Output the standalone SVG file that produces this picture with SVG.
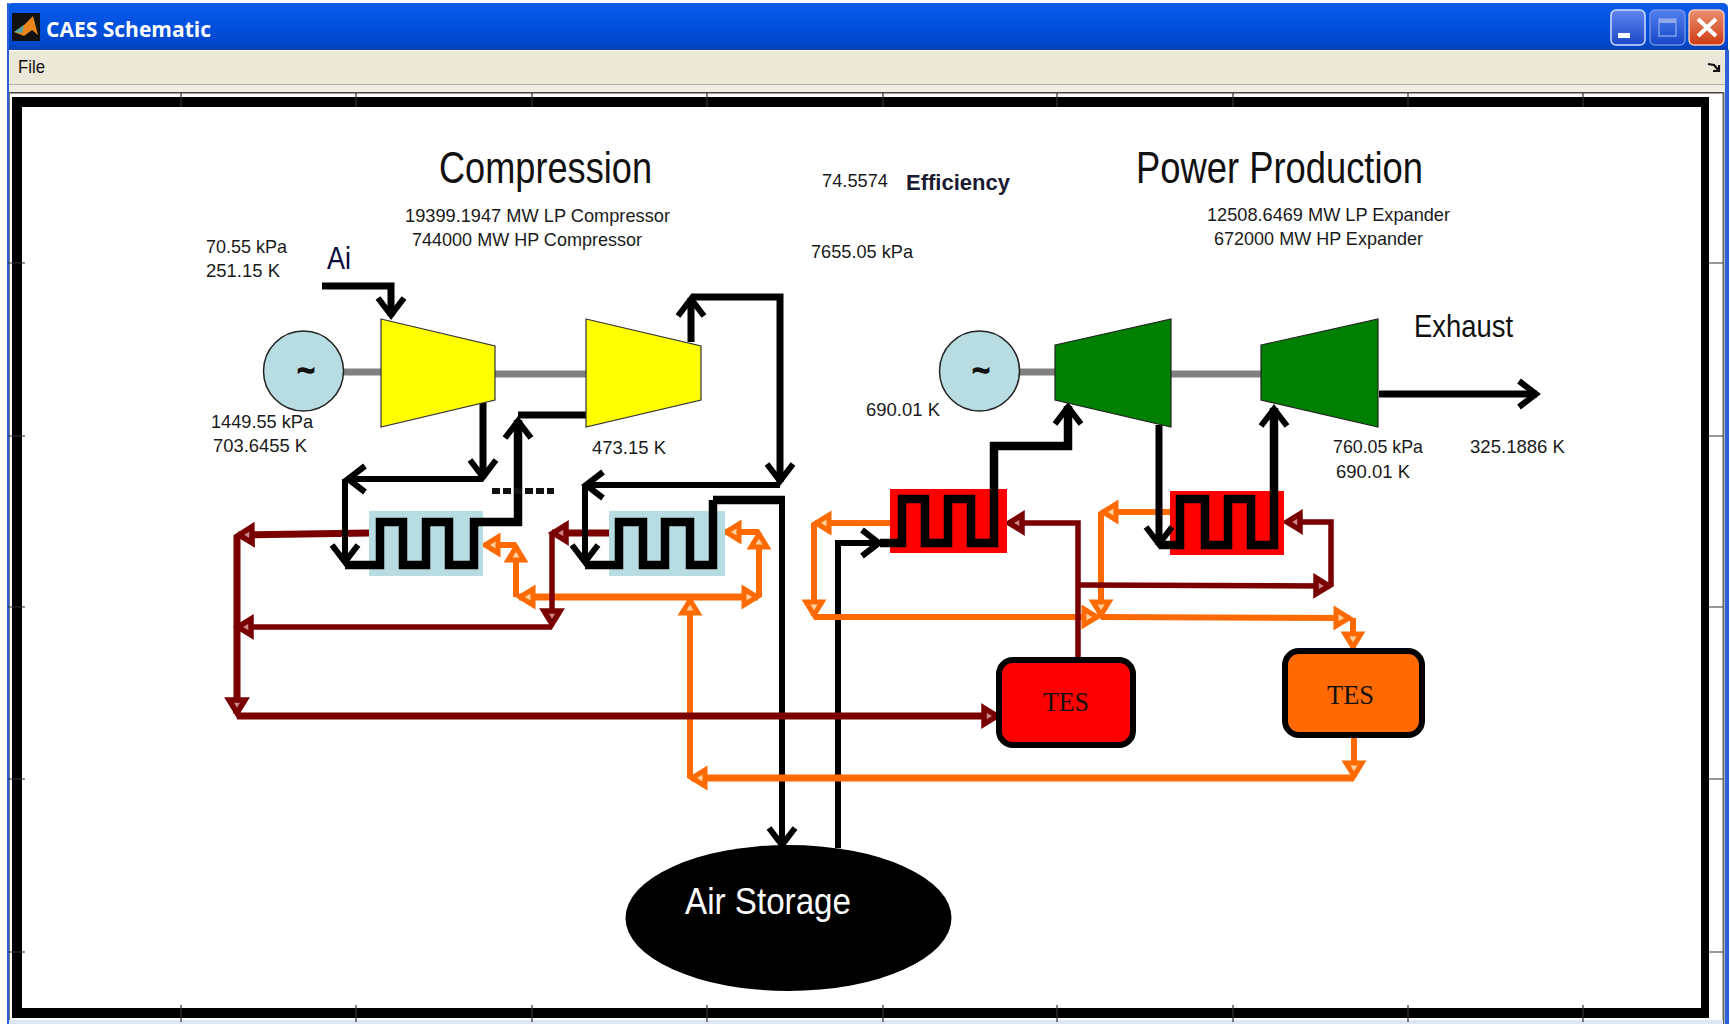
<svg xmlns="http://www.w3.org/2000/svg" width="1730" height="1024" viewBox="0 0 1730 1024">
<style>
.t{font-family:"Liberation Sans",Arial,sans-serif;fill:#1a1a1a;font-size:19px}
.h{font-family:"Liberation Sans",Arial,sans-serif;fill:#111;font-size:44px}
.serif{font-family:"Liberation Serif","Times New Roman",serif;fill:#111;font-size:27px}
.bk{fill:none;stroke:#000;stroke-width:7;stroke-linejoin:miter}
.bk1{fill:none;stroke:#000;stroke-width:6;stroke-linejoin:miter}
.bk2{fill:none;stroke:#000;stroke-width:8.5;stroke-linejoin:miter}
.mr{fill:none;stroke:#7a0000;stroke-width:5.5}
.mr2{fill:none;stroke:#7a0000;stroke-width:7}
.or{fill:none;stroke:#ff6a00;stroke-width:6}
.or2{fill:none;stroke:#ff6a00;stroke-width:7}
.sh{stroke:#808080;stroke-width:7}
.tick{stroke:#333;stroke-width:1.2}
</style>
<defs>
<linearGradient id="tb" x1="0" y1="0" x2="0" y2="1"><stop offset="0" stop-color="#0a5be0"/><stop offset=".12" stop-color="#0a58e8"/><stop offset=".5" stop-color="#0050dd"/><stop offset=".9" stop-color="#0046c8"/><stop offset="1" stop-color="#0a3fa8"/></linearGradient>
<linearGradient id="bb" x1="0" y1="0" x2="0" y2="1"><stop offset="0" stop-color="#5f86ef"/><stop offset="1" stop-color="#1c47c8"/></linearGradient>
<linearGradient id="cb" x1="0" y1="0" x2="0" y2="1"><stop offset="0" stop-color="#ea8f6f"/><stop offset="1" stop-color="#cf3a12"/></linearGradient>
<marker id="ab" markerUnits="userSpaceOnUse" markerWidth="36" markerHeight="36" refX="24" refY="18" orient="auto"><path d="M6 5L23 18L6 31" fill="none" stroke="#000" stroke-width="6"/></marker>
<marker id="am" markerUnits="userSpaceOnUse" markerWidth="26" markerHeight="26" refX="20" refY="13" orient="auto"><path d="M6 5L19 13L6 21Z" fill="#c88" stroke="#7a0000" stroke-width="5.5"/></marker>
<marker id="ao" markerUnits="userSpaceOnUse" markerWidth="26" markerHeight="26" refX="20" refY="13" orient="auto"><path d="M6 5L19 13L6 21Z" fill="#ffd0a0" stroke="#ff6a00" stroke-width="5"/></marker>
</defs>
<rect width="1730" height="1024" fill="#fff"/>
<g id="window">
<path d="M7 50V8Q7 3 13 3H1722Q1728 3 1728 8V50Z" fill="url(#tb)"/>
<rect x="7" y="51" width="1721" height="33" fill="#ebe8d8"/>
<rect x="7" y="84" width="1721" height="1" fill="#b5b2a2"/>
<rect x="7" y="85" width="1721" height="7" fill="#f0eee2"/>
<rect x="7" y="3" width="2" height="1021" fill="#2a62d8"/>
<rect x="1725" y="50" width="4" height="974" fill="#2a62d8"/>
<rect x="9" y="92" width="1714" height="1.5" fill="#444"/>
<rect x="9" y="92" width="1" height="932" fill="#777"/>
<rect x="1722.5" y="92" width="2" height="932" fill="#666"/>
<rect x="9" y="1020" width="1714" height="4" fill="#dde6f5"/>
<g id="icon"><rect x="12" y="13" width="28" height="28" fill="#111"/><path d="M14 32L24 25L33 16L38 35L32 30L24 36Z" fill="#e8861a"/><path d="M14 32L24 25L22 33Z" fill="#4fa8a8"/></g>
<text x="46" y="37" font-family="'Open Sans',sans-serif" font-weight="700" font-size="21" fill="#fff" textLength="165" lengthAdjust="spacingAndGlyphs">CAES Schematic</text>
<text x="18" y="73" font-family="'Liberation Sans',sans-serif" font-size="18" fill="#111" textLength="27" lengthAdjust="spacingAndGlyphs">File</text>
<g id="buttons">
<rect x="1611" y="10" width="34" height="35" rx="5" fill="url(#bb)" stroke="#cfe0ff" stroke-width="1.5"/><rect x="1618" y="33" width="12" height="5" fill="#fff"/>
<rect x="1650" y="10" width="35" height="35" rx="5" fill="url(#bb)" stroke="#7f9fe8" stroke-width="1.5" opacity=".85"/><rect x="1659" y="19" width="17" height="17" fill="none" stroke="#7f9fe8" stroke-width="1.5"/><rect x="1659" y="19" width="17" height="4" fill="#8fa9e8"/>
<rect x="1689" y="10" width="35" height="35" rx="5" fill="url(#cb)" stroke="#f0c8b8" stroke-width="1.5"/><path d="M1698 19L1716 36M1716 19L1698 36" stroke="#fff" stroke-width="4"/>
</g>
<path d="M1708 64L1714 65L1719 71M1713 71H1719V65" fill="none" stroke="#111" stroke-width="2.2"/>
</g>
<g id="frame">
<rect x="17" y="102" width="1688" height="911" fill="#fff"/>
<path fill-rule="evenodd" d="M12 97H1709V1018H12ZM22 107V1008H1701V107Z" fill="#000"/>
<path class="tick" d="M181 93V107M356 93V107M532 93V107M707 93V107M883 93V107M1057 93V107M1233 93V107M1408 93V107M1583 93V107M181 1005V1022M356 1005V1022M532 1005V1022M707 1005V1022M883 1005V1022M1057 1005V1022M1233 1005V1022M1408 1005V1022M1583 1005V1022M8 263H25M8 436H25M8 607H25M8 779H25M8 952H25M1709 263H1723M1709 436H1723M1709 607H1723M1709 779H1723M1709 952H1723"/>
</g>
<g id="connectors">
<path class="sh" d="M343 372H381M495 374H586M1019 372H1055M1171 374H1261" fill="none"/>
<path class="bk1" d="M838 848V543H880" marker-end="url(#ab)"/>
<path class="bk2" d="M713 500H785"/>
<path class="bk1" d="M782 500V846" marker-end="url(#ab)"/>
<path class="or" d="M1354 737V777" marker-end="url(#ao)"/>
<path class="or2" d="M1354 778H691" marker-end="url(#ao)"/>
<path class="or" d="M690 778V599" marker-end="url(#ao)"/>
<path class="or2" d="M690 597H519" marker-end="url(#ao)"/>
<path class="or2" d="M690 597H758" marker-end="url(#ao)"/>
<path class="or" d="M516 597V546" marker-end="url(#ao)"/>
<path class="or" d="M516 545H484" marker-end="url(#ao)"/>
<path class="or" d="M759 597V533" marker-end="url(#ao)"/>
<path class="or" d="M759 532H725" marker-end="url(#ao)"/>
<path class="or" d="M890 523H815" marker-end="url(#ao)"/>
<path class="or" d="M814 523V616" marker-end="url(#ao)"/>
<path class="or" d="M814 617H1098" marker-end="url(#ao)"/>
<path class="or" d="M1170 512H1102" marker-end="url(#ao)"/>
<path class="or" d="M1101 512V616" marker-end="url(#ao)"/>
<path class="or" d="M1101 617L1350 618" marker-end="url(#ao)"/>
<path class="or" d="M1353 618V648" marker-end="url(#ao)"/>
<path class="mr2" d="M369 533L238 535" marker-end="url(#am)"/>
<path class="mr2" d="M609 533H552" marker-end="url(#am)"/>
<path class="mr" d="M552 533V625" marker-end="url(#am)"/>
<path class="mr" d="M552 627H237" marker-end="url(#am)"/>
<path class="mr2" d="M237 535V714" marker-end="url(#am)"/>
<path class="mr2" d="M237 716H998" marker-end="url(#am)"/>
<path class="mr" d="M1078 658V523H1008" marker-end="url(#am)"/>
<path class="mr" d="M1078 585L1330 586" marker-end="url(#am)"/>
<path class="mr" d="M1331 586V522H1286" marker-end="url(#am)"/>
</g>
<g id="hx1"><rect x="369" y="511" width="114" height="65" fill="#b7dde2"/></g>
<g id="hx2"><rect x="609" y="511" width="116" height="65" fill="#b7dde2"/></g>
<g id="hx3"><rect x="890" y="489" width="117" height="64" fill="#f00"/></g>
<g id="hx4"><rect x="1170" y="491" width="114" height="64" fill="#f00"/></g>
<g id="air-lines">
<path class="bk" d="M322 286H391V316" marker-end="url(#ab)"/>
<path class="bk" d="M483 403V478" marker-end="url(#ab)"/>
<path class="bk1" d="M483 479H347" marker-end="url(#ab)"/>
<path class="bk1" d="M345 479V563" marker-end="url(#ab)"/>
<path class="bk2" d="M345 565H380V522H403V565H426V522H449V565H474V522H518V420" marker-end="url(#ab)"/>
<path class="bk" d="M518 415H586"/>
<path class="bk" d="M691 342V298" marker-end="url(#ab)"/>
<path class="bk" d="M691 297H780V482" marker-end="url(#ab)"/>
<path class="bk1" d="M780 485H585" marker-end="url(#ab)"/>
<path class="bk1" d="M585 485V563" marker-end="url(#ab)"/>
<path class="bk2" d="M585 565H619V522H643V565H665V522H690V565H713V500"/>
<path class="bk2" d="M880 543H902V499H925V543H948V499H971V543H994V446H1068V406" marker-end="url(#ab)"/>
<path class="bk" d="M1159 425V545" marker-end="url(#ab)"/>
<path class="bk2" d="M1159 545H1180V499H1205V545H1228V499H1251V545H1274V408" marker-end="url(#ab)"/>
<path class="bk" d="M1379 394H1537" marker-end="url(#ab)"/>
<path d="M492 491H554" stroke="#111" stroke-width="6" stroke-dasharray="8 3"/>
</g>
<g id="generator-1"><ellipse cx="303.5" cy="371" rx="40" ry="40" fill="#b7dde2" stroke="#222" stroke-width="1.5"/><text x="306" y="381" text-anchor="middle" font-family="'Liberation Sans',sans-serif" font-weight="700" font-size="30" fill="#111" stroke="#111" stroke-width="1.5">~</text></g>
<g id="compressor-lp"><polygon points="381,319 495,346 495,400 381,427" fill="#ff0" stroke="#333" stroke-width="1.2"/></g>
<g id="compressor-hp"><polygon points="586,319 701,346 701,400 586,427" fill="#ff0" stroke="#333" stroke-width="1.2"/></g>
<g id="generator-2"><ellipse cx="979.5" cy="371" rx="40" ry="40" fill="#b7dde2" stroke="#222" stroke-width="1.5"/><text x="981" y="381" text-anchor="middle" font-family="'Liberation Sans',sans-serif" font-weight="700" font-size="30" fill="#111" stroke="#111" stroke-width="1.5">~</text></g>
<g id="expander-lp"><polygon points="1055,345 1171,319 1171,427 1055,400" fill="#008000" stroke="#222" stroke-width="1.2"/></g>
<g id="expander-hp"><polygon points="1261,345 1378,319 1378,427 1261,400" fill="#008000" stroke="#222" stroke-width="1.2"/></g>
<g id="tes-1"><rect x="999" y="660" width="134" height="85" rx="14" fill="#f00" stroke="#000" stroke-width="6"/><text class="serif" x="1043" y="711" textLength="46" lengthAdjust="spacingAndGlyphs">TES</text></g>
<g id="tes-2"><rect x="1285" y="651" width="137" height="84" rx="14" fill="#ff6a00" stroke="#000" stroke-width="6"/><text class="serif" x="1327" y="704" textLength="47" lengthAdjust="spacingAndGlyphs">TES</text></g>
<g id="air-storage"><ellipse cx="788.5" cy="918" rx="163" ry="73" fill="#000"/><text x="685" y="914" font-family="'Liberation Sans',sans-serif" font-size="37" fill="#fff" textLength="166" lengthAdjust="spacingAndGlyphs">Air Storage</text></g>
<g id="labels">
<text class="h" x="439" y="183" textLength="213" lengthAdjust="spacingAndGlyphs">Compression</text>
<text class="h" x="1136" y="183" textLength="287" lengthAdjust="spacingAndGlyphs">Power Production</text>
<text class="t" x="405" y="222" textLength="265" lengthAdjust="spacingAndGlyphs">19399.1947 MW LP Compressor</text>
<text class="t" x="412" y="246" textLength="230" lengthAdjust="spacingAndGlyphs">744000 MW HP Compressor</text>
<text class="t" x="206" y="253" textLength="81" lengthAdjust="spacingAndGlyphs">70.55 kPa</text>
<text class="t" x="206" y="277" textLength="74" lengthAdjust="spacingAndGlyphs">251.15 K</text>
<text x="327" y="269" font-family="'Liberation Sans',sans-serif" font-size="32" fill="#0a0a40" textLength="24" lengthAdjust="spacingAndGlyphs">Ai</text>
<text class="t" x="822" y="187" textLength="66" lengthAdjust="spacingAndGlyphs">74.5574</text>
<text x="906" y="190" font-family="'Liberation Sans',sans-serif" font-weight="700" font-size="22" fill="#1a1a33" textLength="104" lengthAdjust="spacingAndGlyphs">Efficiency</text>
<text class="t" x="811" y="258" textLength="102" lengthAdjust="spacingAndGlyphs">7655.05 kPa</text>
<text class="t" x="1207" y="221" textLength="243" lengthAdjust="spacingAndGlyphs">12508.6469 MW LP Expander</text>
<text class="t" x="1214" y="245" textLength="209" lengthAdjust="spacingAndGlyphs">672000 MW HP Expander</text>
<text x="1414" y="337" font-family="'Liberation Sans',sans-serif" font-size="32" fill="#111" textLength="99" lengthAdjust="spacingAndGlyphs">Exhaust</text>
<text class="t" x="211" y="428" textLength="102" lengthAdjust="spacingAndGlyphs">1449.55 kPa</text>
<text class="t" x="213" y="452" textLength="94" lengthAdjust="spacingAndGlyphs">703.6455 K</text>
<text class="t" x="592" y="454" textLength="74" lengthAdjust="spacingAndGlyphs">473.15 K</text>
<text class="t" x="866" y="416" textLength="74" lengthAdjust="spacingAndGlyphs">690.01 K</text>
<text class="t" x="1333" y="453" textLength="90" lengthAdjust="spacingAndGlyphs">760.05 kPa</text>
<text class="t" x="1336" y="478" textLength="74" lengthAdjust="spacingAndGlyphs">690.01 K</text>
<text class="t" x="1470" y="453" textLength="95" lengthAdjust="spacingAndGlyphs">325.1886 K</text>
</g>
</svg>
